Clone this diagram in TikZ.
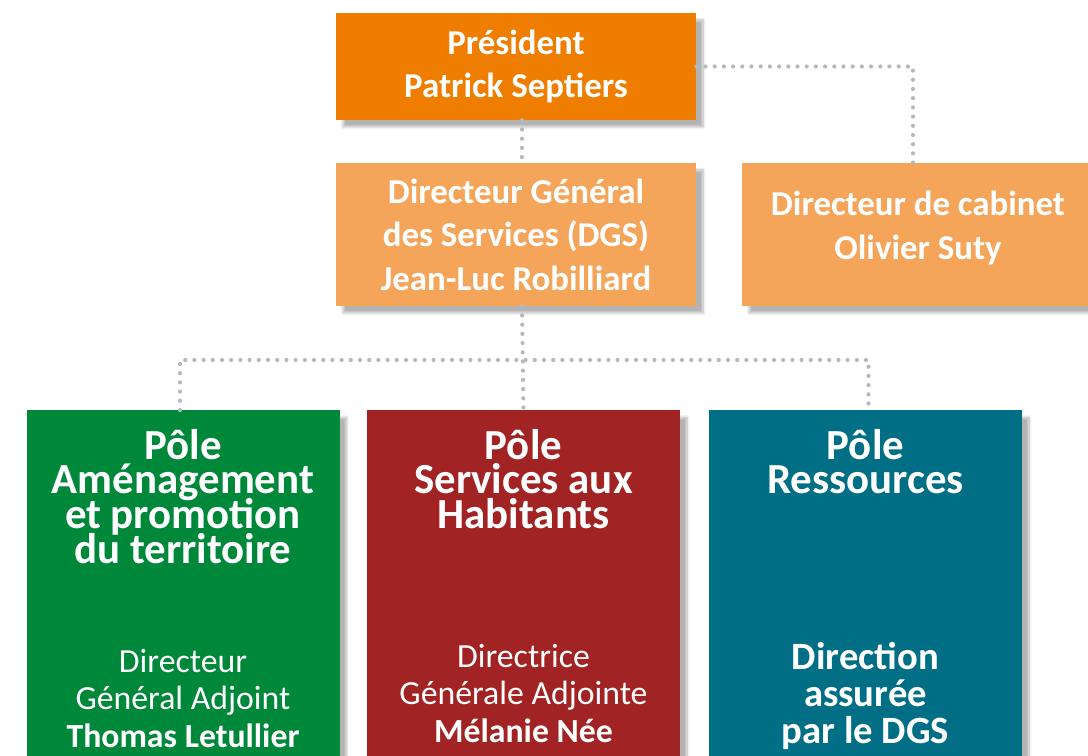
\documentclass[tikz,border=0pt]{standalone}
\usepackage{fontspec}
\setmainfont{Carlito}
\usetikzlibrary{calc,shadows.blur}
\definecolor{presorange}{HTML}{EF7D00}
\definecolor{lightorange}{HTML}{F5A55A}
\definecolor{polegreen}{HTML}{00883A}
\definecolor{polered}{HTML}{A12323}
\definecolor{poleteal}{HTML}{006F86}
\definecolor{dotgray}{HTML}{B4B9BC}
\newlength{\pxu}
\setlength{\pxu}{0.025cm}
\newcommand{\tightlines}{\setlength{\lineskiplimit}{-20pt}}
\tikzset{
	box/.style={rectangle, inner sep=0pt, text=white, align=center,
			blur shadow={shadow xshift=7\pxu, shadow yshift=-7\pxu,
					shadow opacity=30, shadow blur steps=8}},
	headbox/.style={box, font=\bfseries\fontsize{24.8}{31}\selectfont},
	polebox/.style={box, anchor=north, minimum width=313\pxu, minimum height=420\pxu},
	poletitle/.style={anchor=north, text=white, align=center, inner sep=0pt,
			font=\bfseries\fontsize{30.5}{24.6}\selectfont\tightlines},
	polesub/.style={anchor=north, text=white, align=center, inner sep=0pt,
			font=\fontsize{24}{26.5}\selectfont},
	dots/.style={draw=dotgray, line width=4.2\pxu, line cap=round,
			dash pattern=on 0pt off 9.2\pxu}
}

\begin{document}
\begin{tikzpicture}[x=\pxu, y=\pxu]
    \useasboundingbox (0,0) rectangle (1088,756);
    \clip (0,0) rectangle (1088,756);

    \coordinate (bus) at (522,396);

    \node[headbox, fill=presorange, minimum width=360\pxu, minimum height=107\pxu]
        (pres) at (516,689.5) {Président\\Patrick Septiers};
    \node[headbox, fill=lightorange, minimum width=360\pxu, minimum height=143\pxu]
        (dgs) at (516,521.5) {Directeur Général\\des Services (DGS)\\Jean-Luc Robilliard};
    \node[headbox, fill=lightorange, minimum width=352\pxu, minimum height=143\pxu,
        text depth=18\pxu]
        (cab) at (918,521.5) {Directeur de cabinet\\Olivier Suty};

    \node[polebox, fill=polegreen] (green) at (183,346) {};
    \node[polebox, fill=polered]   (red)   at (523.5,346) {};
    \node[polebox, fill=poleteal]  (teal)  at (865.5,346) {};

    \node[poletitle] (greentitle) at ([yshift=-19\pxu]green.north)
        {Pôle\\Aménagement\\et promotion\\du territoire};
    \node[poletitle] (redtitle) at ([yshift=-19\pxu]red.north)
        {Pôle\\Services aux\\Habitants};
    \node[poletitle] (tealtitle) at ([yshift=-19\pxu]teal.north)
        {Pôle\\Ressources};

    \node[polesub] (greensub) at (183,107)
        {Directeur\\Général Adjoint\\\textbf{Thomas Letullier}};
    \node[polesub] (redsub) at (523.5,112)
        {Directrice\\Générale Adjointe\\\textbf{Mélanie Née}};
    \node[polesub, font=\bfseries\fontsize{27.5}{26.5}\selectfont] (tealsub) at (865.5,114)
        {Direction\\assurée\\par le DGS};

    % liaisons
    \draw[dots] ([xshift=6\pxu]pres.south) -- ([xshift=6\pxu]dgs.north);
    \draw[dots] (pres.east) -| ([xshift=-5\pxu]cab.north);
    \draw[dots] ([xshift=6\pxu]dgs.south) -- (red.north);
    \draw[dots] ([xshift=-3\pxu]green.north) |- (bus) -| ([xshift=3\pxu]teal.north);
\end{tikzpicture}
\end{document}
